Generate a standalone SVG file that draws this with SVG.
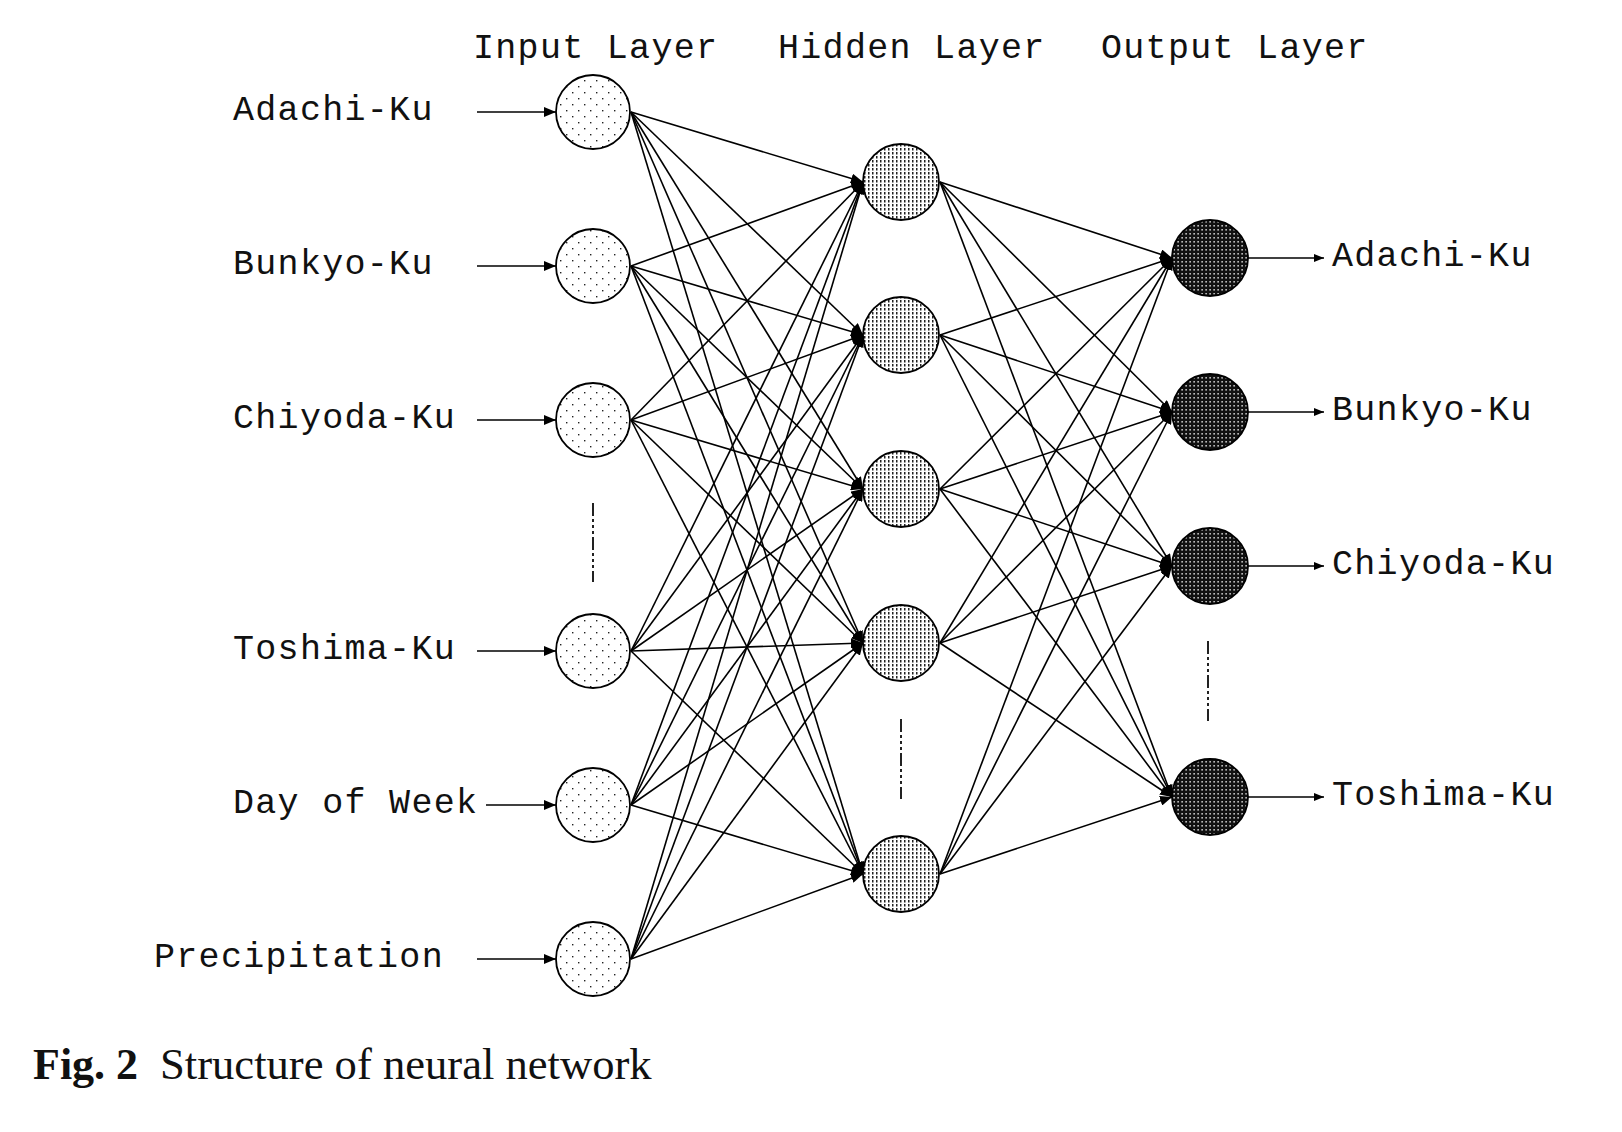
<svg xmlns="http://www.w3.org/2000/svg" width="1622" height="1132" viewBox="0 0 1622 1132">
<defs>
<style>
.lbl{font-family:"Liberation Mono","Courier New",monospace;font-size:35px;letter-spacing:1.3px;fill:#111}
.cap{font-family:"Liberation Serif","Times New Roman",serif;font-size:44px;fill:#111}
.conn line{stroke:#000;stroke-width:1.6}
.node circle{stroke:#000;stroke-width:1.8}
.in circle{fill:url(#pIn)}
.hid circle{fill:url(#pHid)}
.out circle{fill:url(#pOut)}
.dash{stroke:#222;stroke-width:2;stroke-dasharray:13 3 3 3 3 3 3 3}
</style>
<marker id="ah" viewBox="0 0 12 10" refX="12" refY="5" markerWidth="12" markerHeight="10" markerUnits="userSpaceOnUse" orient="auto">
<path d="M0,0 L12,5 L0,10 z" fill="#000"/>
</marker>
<marker id="ahs" viewBox="0 0 10 8" refX="10" refY="4" markerWidth="10" markerHeight="8" markerUnits="userSpaceOnUse" orient="auto">
<path d="M0,0 L10,4 L0,8 z" fill="#000"/>
</marker>
<pattern id="pIn" width="12" height="12" patternUnits="userSpaceOnUse">
<rect width="12" height="12" fill="#fff"/>
<rect x="2" y="2" width="1.4" height="1.4" fill="#222"/>
<rect x="8" y="8" width="1.4" height="1.4" fill="#222"/>
</pattern>
<pattern id="pHid" width="4" height="4" patternUnits="userSpaceOnUse">
<rect width="4" height="4" fill="#fff"/>
<rect x="0" y="0" width="1.5" height="2.5" fill="#222"/>
</pattern>
<pattern id="pOut" width="4" height="4" patternUnits="userSpaceOnUse">
<rect width="4" height="4" fill="#111"/>
<rect x="1.5" y="1" width="1.2" height="1.6" fill="#fff"/>
</pattern>
</defs>
<rect width="1622" height="1132" fill="#fff"/>

<g id="headers">
<text class="lbl" x="473" y="58">Input Layer</text>
<text class="lbl" x="778" y="58">Hidden Layer</text>
<text class="lbl" x="1101" y="58">Output Layer</text>
</g>

<g id="connectors" class="conn">
<!-- input arrows -->
<line x1="477" y1="112" x2="556" y2="112" marker-end="url(#ah)"/>
<line x1="477" y1="266" x2="556" y2="266" marker-end="url(#ah)"/>
<line x1="477" y1="420" x2="556" y2="420" marker-end="url(#ah)"/>
<line x1="477" y1="651" x2="556" y2="651" marker-end="url(#ah)"/>
<line x1="486" y1="805" x2="556" y2="805" marker-end="url(#ah)"/>
<line x1="477" y1="959" x2="556" y2="959" marker-end="url(#ah)"/>
<!-- input to hidden -->
<line x1="631" y1="112" x2="863" y2="182" marker-end="url(#ah)"/>
<line x1="631" y1="112" x2="863" y2="335" marker-end="url(#ah)"/>
<line x1="631" y1="112" x2="863" y2="489" marker-end="url(#ah)"/>
<line x1="631" y1="112" x2="863" y2="643" marker-end="url(#ah)"/>
<line x1="631" y1="112" x2="863" y2="874" marker-end="url(#ah)"/>
<line x1="631" y1="266" x2="863" y2="182" marker-end="url(#ah)"/>
<line x1="631" y1="266" x2="863" y2="335" marker-end="url(#ah)"/>
<line x1="631" y1="266" x2="863" y2="489" marker-end="url(#ah)"/>
<line x1="631" y1="266" x2="863" y2="643" marker-end="url(#ah)"/>
<line x1="631" y1="266" x2="863" y2="874" marker-end="url(#ah)"/>
<line x1="631" y1="420" x2="863" y2="182" marker-end="url(#ah)"/>
<line x1="631" y1="420" x2="863" y2="335" marker-end="url(#ah)"/>
<line x1="631" y1="420" x2="863" y2="489" marker-end="url(#ah)"/>
<line x1="631" y1="420" x2="863" y2="643" marker-end="url(#ah)"/>
<line x1="631" y1="420" x2="863" y2="874" marker-end="url(#ah)"/>
<line x1="631" y1="651" x2="863" y2="182" marker-end="url(#ah)"/>
<line x1="631" y1="651" x2="863" y2="335" marker-end="url(#ah)"/>
<line x1="631" y1="651" x2="863" y2="489" marker-end="url(#ah)"/>
<line x1="631" y1="651" x2="863" y2="643" marker-end="url(#ah)"/>
<line x1="631" y1="651" x2="863" y2="874" marker-end="url(#ah)"/>
<line x1="631" y1="805" x2="863" y2="182" marker-end="url(#ah)"/>
<line x1="631" y1="805" x2="863" y2="335" marker-end="url(#ah)"/>
<line x1="631" y1="805" x2="863" y2="489" marker-end="url(#ah)"/>
<line x1="631" y1="805" x2="863" y2="643" marker-end="url(#ah)"/>
<line x1="631" y1="805" x2="863" y2="874" marker-end="url(#ah)"/>
<line x1="631" y1="959" x2="863" y2="182" marker-end="url(#ah)"/>
<line x1="631" y1="959" x2="863" y2="335" marker-end="url(#ah)"/>
<line x1="631" y1="959" x2="863" y2="489" marker-end="url(#ah)"/>
<line x1="631" y1="959" x2="863" y2="643" marker-end="url(#ah)"/>
<line x1="631" y1="959" x2="863" y2="874" marker-end="url(#ah)"/>
<!-- hidden to output -->
<line x1="940" y1="182" x2="1172" y2="258" marker-end="url(#ah)"/>
<line x1="940" y1="182" x2="1172" y2="412" marker-end="url(#ah)"/>
<line x1="940" y1="182" x2="1172" y2="566" marker-end="url(#ah)"/>
<line x1="940" y1="182" x2="1172" y2="797" marker-end="url(#ah)"/>
<line x1="940" y1="335" x2="1172" y2="258" marker-end="url(#ah)"/>
<line x1="940" y1="335" x2="1172" y2="412" marker-end="url(#ah)"/>
<line x1="940" y1="335" x2="1172" y2="566" marker-end="url(#ah)"/>
<line x1="940" y1="335" x2="1172" y2="797" marker-end="url(#ah)"/>
<line x1="940" y1="489" x2="1172" y2="258" marker-end="url(#ah)"/>
<line x1="940" y1="489" x2="1172" y2="412" marker-end="url(#ah)"/>
<line x1="940" y1="489" x2="1172" y2="566" marker-end="url(#ah)"/>
<line x1="940" y1="489" x2="1172" y2="797" marker-end="url(#ah)"/>
<line x1="940" y1="643" x2="1172" y2="258" marker-end="url(#ah)"/>
<line x1="940" y1="643" x2="1172" y2="412" marker-end="url(#ah)"/>
<line x1="940" y1="643" x2="1172" y2="566" marker-end="url(#ah)"/>
<line x1="940" y1="643" x2="1172" y2="797" marker-end="url(#ah)"/>
<line x1="940" y1="874" x2="1172" y2="258" marker-end="url(#ah)"/>
<line x1="940" y1="874" x2="1172" y2="412" marker-end="url(#ah)"/>
<line x1="940" y1="874" x2="1172" y2="566" marker-end="url(#ah)"/>
<line x1="940" y1="874" x2="1172" y2="797" marker-end="url(#ah)"/>
<!-- output arrows -->
<line x1="1248" y1="258" x2="1324" y2="258" marker-end="url(#ahs)"/>
<line x1="1248" y1="412" x2="1324" y2="412" marker-end="url(#ahs)"/>
<line x1="1248" y1="566" x2="1324" y2="566" marker-end="url(#ahs)"/>
<line x1="1248" y1="797" x2="1324" y2="797" marker-end="url(#ahs)"/>
</g>

<g id="input-labels">
<text class="lbl" x="233" y="120">Adachi-Ku</text>
<text class="lbl" x="233" y="274">Bunkyo-Ku</text>
<text class="lbl" x="233" y="428">Chiyoda-Ku</text>
<text class="lbl" x="233" y="659">Toshima-Ku</text>
<text class="lbl" x="233" y="813">Day of Week</text>
<text class="lbl" x="154" y="967">Precipitation</text>
</g>

<g id="input-nodes" class="node in">
<g id="in1"><circle cx="593" cy="112" r="37"/></g>
<g id="in2"><circle cx="593" cy="266" r="37"/></g>
<g id="in3"><circle cx="593" cy="420" r="37"/></g>
<g id="in4"><circle cx="593" cy="651" r="37"/></g>
<g id="in5"><circle cx="593" cy="805" r="37"/></g>
<g id="in6"><circle cx="593" cy="959" r="37"/></g>
</g>

<g id="hidden-nodes" class="node hid">
<g id="h1"><circle cx="901" cy="182" r="38"/></g>
<g id="h2"><circle cx="901" cy="335" r="38"/></g>
<g id="h3"><circle cx="901" cy="489" r="38"/></g>
<g id="h4"><circle cx="901" cy="643" r="38"/></g>
<g id="h5"><circle cx="901" cy="874" r="38"/></g>
</g>

<g id="output-nodes" class="node out">
<g id="o1"><circle cx="1210" cy="258" r="38"/></g>
<g id="o2"><circle cx="1210" cy="412" r="38"/></g>
<g id="o3"><circle cx="1210" cy="566" r="38"/></g>
<g id="o4"><circle cx="1210" cy="797" r="38"/></g>
</g>

<g id="output-labels">
<text class="lbl" x="1332" y="266">Adachi-Ku</text>
<text class="lbl" x="1332" y="420">Bunkyo-Ku</text>
<text class="lbl" x="1332" y="574">Chiyoda-Ku</text>
<text class="lbl" x="1332" y="805">Toshima-Ku</text>
</g>

<g id="ellipses">
<line class="dash" x1="593" y1="503" x2="593" y2="582"/>
<line class="dash" x1="901" y1="719" x2="901" y2="799"/>
<line class="dash" x1="1208" y1="641" x2="1208" y2="721"/>
</g>

<g id="caption">
<text class="cap" x="33" y="1079" font-weight="bold">Fig. 2</text>
<text class="cap" x="160" y="1079" style="font-size:44.6px">Structure of neural network</text>
</g>
</svg>
